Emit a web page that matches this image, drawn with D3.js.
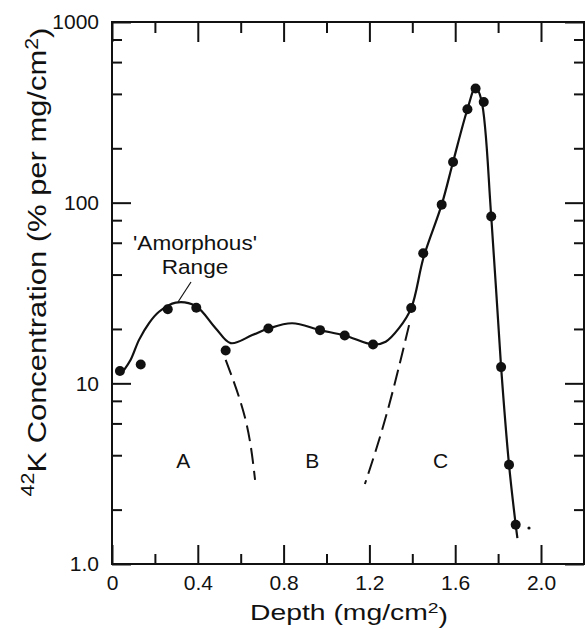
<!DOCTYPE html>
<html>
<head>
<meta charset="utf-8">
<script src="https://cdn.jsdelivr.net/npm/d3@7"></script>
<style>
  html, body { margin: 0; padding: 0; background: #fff; }
  svg { display: block; }
  text { font-family: "Liberation Sans", Arial, Helvetica, sans-serif; fill: #111; }
</style>
</head>
<body>
<svg id="chart" width="585" height="630"></svg>
<script>
// Measured 42K concentration profile
const depth = [0.037, 0.134, 0.26, 0.393, 0.53, 0.729, 0.970, 1.085, 1.217, 1.395,
               1.451, 1.537, 1.590, 1.657, 1.695, 1.733, 1.768, 1.814, 1.851, 1.882];
const conc  = [11.7, 12.7, 25.7, 26.2, 15.2, 20.1, 19.7, 18.4, 16.4, 26.1,
               52.5, 97.5, 168, 329, 428, 361, 83.8, 12.3, 3.54, 1.65];

// Hand-drawn fit through the profile
const fitDepth = [0.055, 0.087, 0.126, 0.172, 0.219, 0.297, 0.390, 0.483, 0.553, 0.654,
                  0.729, 0.840, 0.970, 1.085, 1.217, 1.276, 1.338, 1.395, 1.453,
                  1.537, 1.590, 1.657, 1.695, 1.722, 1.768, 1.814, 1.851, 1.882, 1.890];
const fitConc  = [11.8, 13.5, 17.4, 21.5, 24.9, 28.0, 26.8, 20.2, 16.7, 18.5,
                  20.1, 21.5, 19.7, 18.4, 16.4, 17.0, 20.2, 26.1, 50.0,
                  97.5, 168, 329, 436, 370, 83.8, 12.3, 3.54, 1.65, 1.39];

// Dashed extrapolations bounding the regions
const dashADepth = [0.530, 0.623, 0.667];
const dashAConc  = [13.5, 6.26, 2.92];
const dashCDepth = [1.385, 1.281, 1.179];
const dashCConc  = [21.0, 6.8, 2.77];

// Region labels
const regionNames = ["A", "B", "C"];
const regionDepth = [0.332, 0.934, 1.532];
const regionConc  = [3.72, 3.72, 3.72];

// Ticks
const xMajor = [0, 0.4, 0.8, 1.2, 1.6, 2.0];
const xMajorLabels = ["0", "0.4", "0.8", "1.2", "1.6", "2.0"];
const xMinor = [0.2, 0.6, 1.0, 1.4, 1.8];
const yMajor = [1, 10, 100, 1000];
const yMajorLabels = ["1.0", "10", "100", "1000"];
const yMinor = [2, 4, 6, 8, 20, 40, 60, 80, 200, 400, 600, 800];

const svg = d3.select("#chart");
const plotLeft = 112, plotRight = 584, plotTop = 22, plotBottom = 564;

const x = d3.scaleLinear().domain([0, 2.2]).range([plotLeft, plotLeft + 2.2 * 214.5]);
const y = d3.scaleLog().domain([1, 1000]).range([plotBottom, plotTop]);

const ink = "#111";

// frame
svg.append("rect")
  .attr("x", plotLeft).attr("y", plotTop)
  .attr("width", plotRight - plotLeft).attr("height", plotBottom - plotTop)
  .attr("fill", "none").attr("stroke", ink).attr("stroke-width", 2);

function styleAxis(g) {
  g.select(".domain").remove();
  g.selectAll(".tick line").attr("stroke", ink).attr("stroke-width", 2);
  g.selectAll(".tick text").attr("fill", ink)
    .style("font-size", "21px")
    .style("font-family", "'Liberation Sans', Arial, Helvetica, sans-serif");
}

const fmtX = (d) => xMajorLabels[xMajor.indexOf(d)];
const fmtY = (d) => yMajorLabels[yMajor.indexOf(d)];

// bottom axis
svg.append("g").attr("transform", `translate(0,${plotBottom})`)
  .call(d3.axisBottom(x).tickValues(xMajor).tickFormat(fmtX).tickSizeInner(-19).tickSizeOuter(0).tickPadding(11))
  .call(styleAxis);
svg.append("g").attr("transform", `translate(0,${plotBottom})`)
  .call(d3.axisBottom(x).tickValues(xMinor).tickFormat("").tickSizeInner(-10).tickSizeOuter(0))
  .call(styleAxis);
// top axis
svg.append("g").attr("transform", `translate(0,${plotTop})`)
  .call(d3.axisTop(x).tickValues(xMajor).tickFormat("").tickSizeInner(-20).tickSizeOuter(0))
  .call(styleAxis);
svg.append("g").attr("transform", `translate(0,${plotTop})`)
  .call(d3.axisTop(x).tickValues(xMinor).tickFormat("").tickSizeInner(-11).tickSizeOuter(0))
  .call(styleAxis);
// left axis
svg.append("g").attr("transform", `translate(${plotLeft},0)`)
  .call(d3.axisLeft(y).tickValues(yMajor).tickFormat(fmtY).tickSizeInner(-19).tickSizeOuter(0).tickPadding(13))
  .call(styleAxis);
svg.append("g").attr("transform", `translate(${plotLeft},0)`)
  .call(d3.axisLeft(y).tickValues(yMinor).tickFormat("").tickSizeInner(-10).tickSizeOuter(0))
  .call(styleAxis);
// right axis
svg.append("g").attr("transform", `translate(${plotRight},0)`)
  .call(d3.axisRight(y).tickValues(yMajor).tickFormat("").tickSizeInner(-19).tickSizeOuter(0))
  .call(styleAxis);
svg.append("g").attr("transform", `translate(${plotRight},0)`)
  .call(d3.axisRight(y).tickValues(yMinor).tickFormat("").tickSizeInner(-10).tickSizeOuter(0))
  .call(styleAxis);

// fitted curve
const line = d3.line()
  .x((d) => x(d[0])).y((d) => y(d[1]))
  .curve(d3.curveCatmullRom.alpha(0.5));

svg.append("path")
  .datum(d3.zip(fitDepth, fitConc))
  .attr("d", line)
  .attr("fill", "none").attr("stroke", ink).attr("stroke-width", 2.2);

// dashed boundaries
const dashLine = d3.line()
  .x((d) => x(d[0])).y((d) => y(d[1]))
  .curve(d3.curveNatural);

[[dashADepth, dashAConc], [dashCDepth, dashCConc]].forEach(([dx, dy]) => {
  svg.append("path")
    .datum(d3.zip(dx, dy))
    .attr("d", dashLine)
    .attr("fill", "none").attr("stroke", ink).attr("stroke-width", 2)
    .attr("stroke-dasharray", "16,7");
});

// data points
svg.append("g").selectAll("circle")
  .data(d3.zip(depth, conc))
  .join("circle")
  .attr("cx", (d) => x(d[0])).attr("cy", (d) => y(d[1]))
  .attr("r", 5).attr("fill", ink);

// region labels
svg.append("g").selectAll("text")
  .data(d3.zip(regionNames, regionDepth, regionConc))
  .join("text")
  .attr("x", (d) => x(d[1])).attr("y", (d) => y(d[2]))
  .attr("dy", "0.36em")
  .attr("text-anchor", "middle")
  .style("font-size", "21px")
  .text((d) => d[0]);

// horizontal scale factor that brings a text element to a target width
function fitWidth(sel, target) {
  const w = sel.node().getBBox().width;
  return target / w;
}

// 'Amorphous' Range annotation
const ann = svg.append("g");
const annText = ann.append("text").attr("text-anchor", "middle").style("font-size", "21px");
annText.append("tspan").attr("x", 0).attr("y", 0).text("'Amorphous'");
annText.append("tspan").attr("x", 0).attr("y", 24).text("Range");
const sA = fitWidth(annText, 124);
annText.attr("transform", `translate(195,250) scale(${sA},1)`);
ann.append("line")
  .attr("x1", 191).attr("y1", 282).attr("x2", 178).attr("y2", 302)
  .attr("stroke", ink).attr("stroke-width", 1.2);

// x axis title
const xt = svg.append("text").attr("text-anchor", "middle").style("font-size", "22px");
xt.append("tspan").text("Depth (mg/cm");
xt.append("tspan").attr("dy", "-0.45em").style("font-size", "15px").text("2");
xt.append("tspan").attr("dy", "0.45em").text(")");
const sX = fitWidth(xt, 198);
xt.attr("transform", `translate(349,620) scale(${sX},1)`);

// y axis title
const yt = svg.append("text").attr("text-anchor", "middle").style("font-size", "26px");
yt.append("tspan").attr("dy", "-0.45em").style("font-size", "18px").text("42");
yt.append("tspan").attr("dy", "0.45em").text("K Concentration (% per mg/cm");
yt.append("tspan").attr("dy", "-0.45em").style("font-size", "18px").text("2");
yt.append("tspan").attr("dy", "0.45em").text(")");
const sY = fitWidth(yt, 469);
yt.attr("transform", `translate(42,262) rotate(-90) scale(${sY},1)`);

// small stray mark beside the last point
svg.append("circle").attr("cx", 529).attr("cy", 528).attr("r", 1.6).attr("fill", ink);
</script>
</body>
</html>
